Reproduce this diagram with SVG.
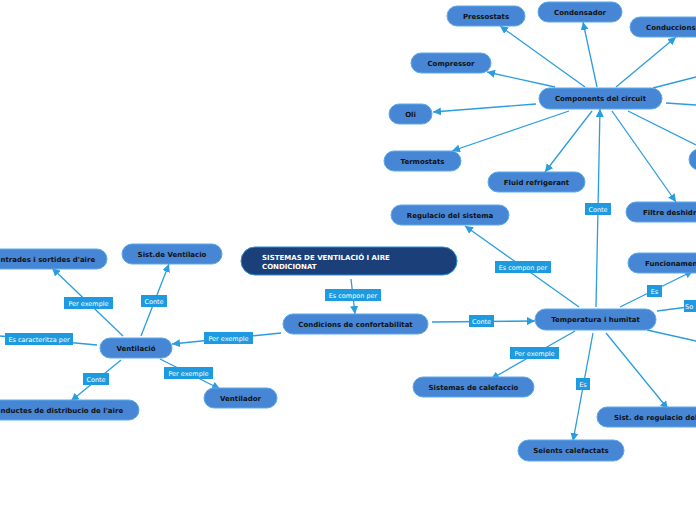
<svg xmlns="http://www.w3.org/2000/svg" width="696" height="520" viewBox="0 0 696 520">
<defs>
<marker id="ah" viewBox="0 0 10 10" refX="10" refY="5" markerWidth="8" markerHeight="8" orient="auto" markerUnits="userSpaceOnUse"><path d="M0,0 L10,5 L0,10 z" fill="#2a9de0"/></marker>
<style>
.n{fill:#4686d4;stroke:#5aa9ea;stroke-width:1}
.r{fill:#1b3f78;stroke:#2a8fd8;stroke-width:1}
.t{font-family:"DejaVu Sans",Verdana,sans-serif;font-size:7px;font-weight:bold;fill:#111;text-anchor:middle}
.rt{font-family:"DejaVu Sans",Verdana,sans-serif;font-size:7px;font-weight:bold;fill:#fff}
.e{stroke:#2a9de0;stroke-width:1.3;fill:none}
.a{marker-end:url(#ah)}
.lb{fill:#1e9be0}
.lt{font-family:"DejaVu Sans",Verdana,sans-serif;font-size:6.5px;fill:#fff;text-anchor:middle}
</style>
</defs>
<rect width="696" height="520" fill="#fff"/>
<g id="connectors">
<line class="e a" x1="585" y1="87" x2="500" y2="26"/>
<line class="e a" x1="597" y1="87" x2="583" y2="22"/>
<line class="e a" x1="616" y1="87" x2="676" y2="37"/>
<line class="e a" x1="555" y1="87" x2="487" y2="72"/>
<line class="e a" x1="536" y1="104" x2="433" y2="112"/>
<line class="e a" x1="569" y1="111" x2="452" y2="151"/>
<line class="e a" x1="592" y1="111" x2="545" y2="172"/>
<line class="e a" x1="612" y1="111" x2="676" y2="202"/>
<line class="e" x1="628" y1="111" x2="696" y2="145"/>
<line class="e" x1="653" y1="88" x2="696" y2="77"/>
<line class="e" x1="666" y1="103" x2="696" y2="105"/>
<line class="e a" x1="596" y1="307" x2="600" y2="109"/>
<line class="e a" x1="579" y1="307" x2="465" y2="226"/>
<line class="e a" x1="620" y1="307" x2="693" y2="271"/>
<line class="e" x1="657" y1="311" x2="696" y2="306"/>
<line class="e" x1="647" y1="330" x2="696" y2="341"/>
<line class="e a" x1="575" y1="331" x2="491" y2="379"/>
<line class="e a" x1="593" y1="333" x2="573" y2="441"/>
<line class="e a" x1="606" y1="333" x2="668" y2="409"/>
<line class="e a" x1="432" y1="322" x2="535" y2="321"/>
<line class="e a" x1="351" y1="279" x2="355" y2="314"/>
<line class="e a" x1="281" y1="333" x2="172" y2="344"/>
<line class="e a" x1="123" y1="336" x2="52" y2="268"/>
<line class="e a" x1="141" y1="336" x2="169" y2="264"/>
<line class="e" x1="97" y1="345" x2="0" y2="336"/>
<line class="e a" x1="121" y1="360" x2="71" y2="401"/>
<line class="e a" x1="160" y1="359" x2="220" y2="389"/>
<g id="labels">
<rect class="lb" x="585" y="203" width="26" height="12"/><text class="lt" x="598" y="211.5">Conte</text>
<rect class="lb" x="495" y="261" width="56" height="12"/><text class="lt" x="523" y="269.5">Es compon per</text>
<rect class="lb" x="647" y="285" width="15" height="12"/><text class="lt" x="654.5" y="293.5">Es</text>
<rect class="lb" x="684" y="300" width="20" height="12"/><text class="lt" x="685" y="308.5" style="text-anchor:start">So</text>
<rect class="lb" x="510" y="347" width="49" height="12"/><text class="lt" x="534.5" y="355.5">Per exemple</text>
<rect class="lb" x="576" y="378" width="14" height="12"/><text class="lt" x="583" y="386.5">Es</text>
<rect class="lb" x="469" y="315" width="25" height="12"/><text class="lt" x="481.5" y="323.5">Conte</text>
<rect class="lb" x="325" y="289" width="56" height="12"/><text class="lt" x="353" y="297.5">Es compon per</text>
<rect class="lb" x="204" y="332" width="49" height="12"/><text class="lt" x="228.5" y="340.5">Per exemple</text>
<rect class="lb" x="64" y="297" width="49" height="12"/><text class="lt" x="88.5" y="305.5">Per exemple</text>
<rect class="lb" x="141" y="295" width="26" height="12"/><text class="lt" x="154" y="303.5">Conte</text>
<rect class="lb" x="5" y="333" width="68" height="12"/><text class="lt" x="39" y="341.5">Es caracteritza per</text>
<rect class="lb" x="83" y="373" width="26" height="12"/><text class="lt" x="96" y="381.5">Conte</text>
<rect class="lb" x="164" y="367" width="49" height="12"/><text class="lt" x="188.5" y="375.5">Per exemple</text>
</g>
</g>
<g id="root"><rect class="r" x="241" y="247" width="216" height="28" rx="14"/><text class="rt" x="262" y="259.5">SISTEMAS DE VENTILACIÓ I AIRE</text><text class="rt" x="262" y="268.5">CONDICIONAT</text></g>
<g id="pressostats"><rect class="n" x="447" y="6" width="78" height="20" rx="10"/><text class="t" x="486" y="18.5">Pressostats</text></g>
<g id="condensador"><rect class="n" x="538" y="2" width="84" height="20" rx="10"/><text class="t" x="580" y="14.5">Condensador</text></g>
<g id="conduccions"><rect class="n" x="630" y="17" width="90" height="20" rx="10"/><text class="t" x="646" y="29.5" style="text-anchor:start">Conduccions</text></g>
<g id="compressor"><rect class="n" x="411" y="53" width="80" height="20" rx="10"/><text class="t" x="451" y="65.5">Compressor</text></g>
<g id="components"><rect class="n" x="539" y="88" width="123" height="21" rx="10.5"/><text class="t" x="600.5" y="101">Components del circuit</text></g>
<g id="oli"><rect class="n" x="389" y="104" width="43" height="20" rx="10"/><text class="t" x="410.5" y="116.5">Oli</text></g>
<g id="right-node"><rect class="n" x="689" y="149" width="40" height="21" rx="10.5"/></g>
<g id="termostats"><rect class="n" x="384" y="151" width="77" height="20" rx="10"/><text class="t" x="422.5" y="163.5">Termostats</text></g>
<g id="fluid"><rect class="n" x="488" y="172" width="97" height="20" rx="10"/><text class="t" x="536.5" y="184.5">Fluid refrigerant</text></g>
<g id="regulacio"><rect class="n" x="391" y="205" width="118" height="20" rx="10"/><text class="t" x="450" y="217.5">Regulacio del sistema</text></g>
<g id="filtre"><rect class="n" x="626" y="202" width="110" height="20" rx="10"/><text class="t" x="643" y="214.5" style="text-anchor:start">Filtre deshidr</text></g>
<g id="funcionament"><rect class="n" x="628" y="253" width="100" height="20" rx="10"/><text class="t" x="645" y="265.5" style="text-anchor:start">Funcionamen</text></g>
<g id="temperatura"><rect class="n" x="535" y="309" width="121" height="21" rx="10.5"/><text class="t" x="595.5" y="322">Temperatura i humitat</text></g>
<g id="condicions"><rect class="n" x="283" y="314" width="145" height="20" rx="10"/><text class="t" x="355.5" y="326.5">Condicions de confortabilitat</text></g>
<g id="ventilacio"><rect class="n" x="100" y="338" width="72" height="20" rx="10"/><text class="t" x="136" y="350.5">Ventilació</text></g>
<g id="sist-ventilacio"><rect class="n" x="122" y="244" width="100" height="20" rx="10"/><text class="t" x="172" y="256.5">Sist.de Ventilacio</text></g>
<g id="entrades"><rect class="n" x="-25" y="249" width="132" height="20" rx="10"/><text class="t" x="0.5" y="261.5" style="text-anchor:start">ntrades i sortides d'aire</text></g>
<g id="conductes"><rect class="n" x="-25" y="400" width="164" height="20" rx="10"/><text class="t" x="0.5" y="412.5" style="text-anchor:start">nductes de distribucio de l'aire</text></g>
<g id="ventilador"><rect class="n" x="204" y="388" width="73" height="20" rx="10"/><text class="t" x="240.5" y="400.5">Ventilador</text></g>
<g id="calefaccio"><rect class="n" x="413" y="377" width="121" height="20" rx="10"/><text class="t" x="473.5" y="389.5">Sistemas de calefaccio</text></g>
<g id="seients"><rect class="n" x="518" y="440" width="106" height="21" rx="10.5"/><text class="t" x="571" y="453">Seients calefactats</text></g>
<g id="sist-regulacio"><rect class="n" x="597" y="407" width="130" height="20" rx="10"/><text class="t" x="614" y="419.5" style="text-anchor:start">Sist. de regulacio del</text></g>
</svg>
